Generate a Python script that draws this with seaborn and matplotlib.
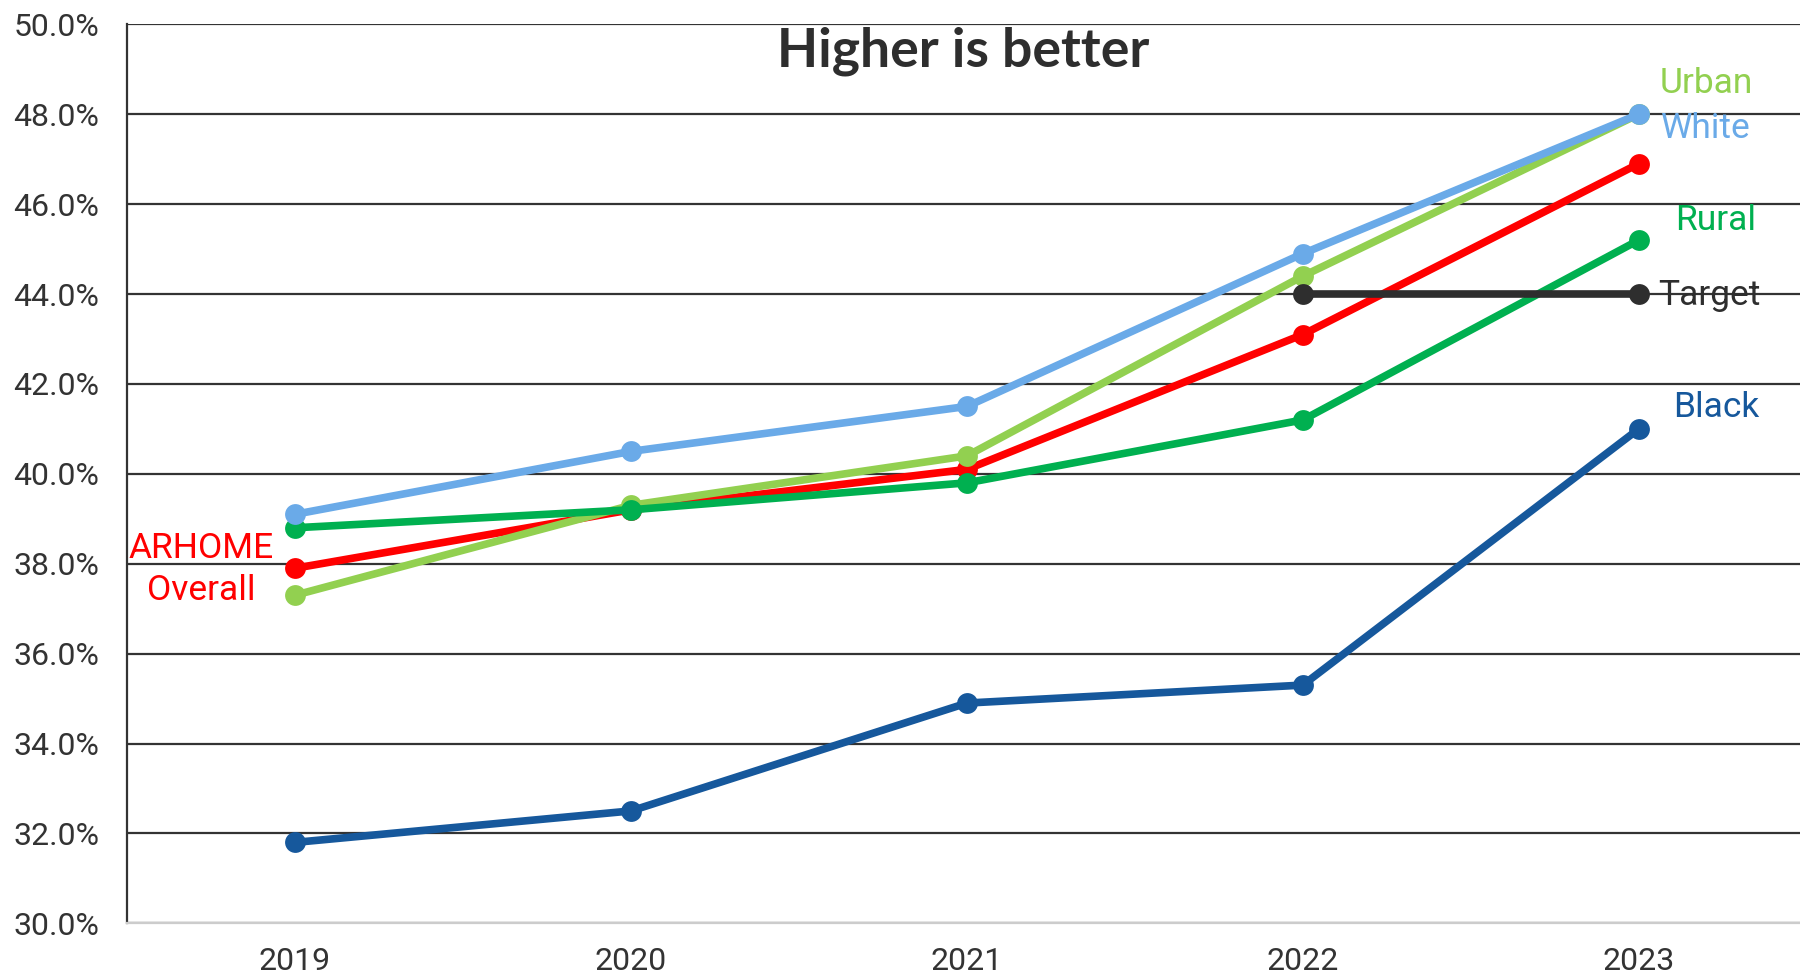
import pandas as pd
import seaborn as sns
import matplotlib.pyplot as plt
from matplotlib.ticker import FuncFormatter

# data (percent)
years = ["2019", "2020", "2021", "2022", "2023"]
overall = [37.9, 39.2, 40.1, 43.1, 46.9]
urban = [37.3, 39.3, 40.4, 44.4, 48.0]
rural = [38.8, 39.2, 39.8, 41.2, 45.2]
black = [31.8, 32.5, 34.9, 35.3, 41.0]
white = [39.1, 40.5, 41.5, 44.9, 48.0]
target_years = ["2022", "2023"]
target = [44.0, 44.0]

series_order = ["Overall", "Urban", "Rural", "Black", "Target", "White"]
colors = {
    "Overall": "#FF0000",
    "Urban": "#92D050",
    "Rural": "#00B050",
    "Black": "#16589C",
    "Target": "#2E2E2E",
    "White": "#6AAAE8",
}

# long format for seaborn
rows = []
for name, vals in [("Overall", overall), ("Urban", urban), ("Rural", rural),
                   ("Black", black), ("White", white)]:
    for y, v in zip(years, vals):
        rows.append({"year": years.index(y), "value": v, "series": name})
for y, v in zip(target_years, target):
    rows.append({"year": years.index(y), "value": v, "series": "Target"})
df = pd.DataFrame(rows)

sns.set_style("white")
plt.rcParams['font.family'] = ['Roboto', 'DejaVu Sans']

fig = plt.figure(figsize=(18, 9.76), dpi=100)
ax = fig.add_axes([0.0706, 0.054, 0.9294, 0.921])

# 1. gridlines under the lines
ax.set_axisbelow(True)
ax.yaxis.grid(True, color="#333333", linewidth=1.6)

# 2. the lines
sns.lineplot(data=df, x="year", y="value", hue="series", hue_order=series_order,
             palette=colors, marker="o", markersize=15, markeredgewidth=0,
             linewidth=5.5, legend=False, ax=ax)

ax.set_xlim(-0.5, 4.48)
ax.set_ylim(30, 50)
ax.set_yticks([30, 32, 34, 36, 38, 40, 42, 44, 46, 48, 50])
ax.yaxis.set_major_formatter(FuncFormatter(lambda v, p: f"{v:.1f}%"))
ax.set_xticks(range(len(years)))
ax.set_xticklabels(years)
ax.set_xlabel("")
ax.set_ylabel("")
ax.tick_params(axis="y", length=0, pad=20, labelsize=23, labelcolor="#333333")
ax.tick_params(axis="x", length=0, pad=17, labelsize=23, labelcolor="#333333")

for s in ["top", "right"]:
    ax.spines[s].set_visible(False)
ax.spines["left"].set_color("#333333")
ax.spines["left"].set_linewidth(1.6)
ax.spines["bottom"].set_color("#CCCCCC")
ax.spines["bottom"].set_linewidth(1.6)

# 3. series labels
lab = dict(fontsize=25.5, ha="center", va="center")
ax.text(4.2, 48.69, "Urban", color=colors["Urban"], **lab)
ax.text(4.2, 47.69, "White", color=colors["White"], **lab)
ax.text(4.23, 45.64, "Rural", color=colors["Rural"], **lab)
ax.text(4.21, 43.97, "Target", color=colors["Target"], **lab)
ax.text(4.23, 41.48, "Black", color=colors["Black"], **lab)
ax.text(-0.28, 38.34, "ARHOME", color=colors["Overall"], **lab)
ax.text(-0.28, 37.41, "Overall", color=colors["Overall"], **lab)

# 4. title inside the plot
ax.text(1.99, 49.4, "Higher is better", fontsize=38.5, fontweight="bold",
        color="#2E2E2E", ha="center", va="center", family=["Lato", "DejaVu Sans"])

fig.savefig("out.png", dpi=100)
